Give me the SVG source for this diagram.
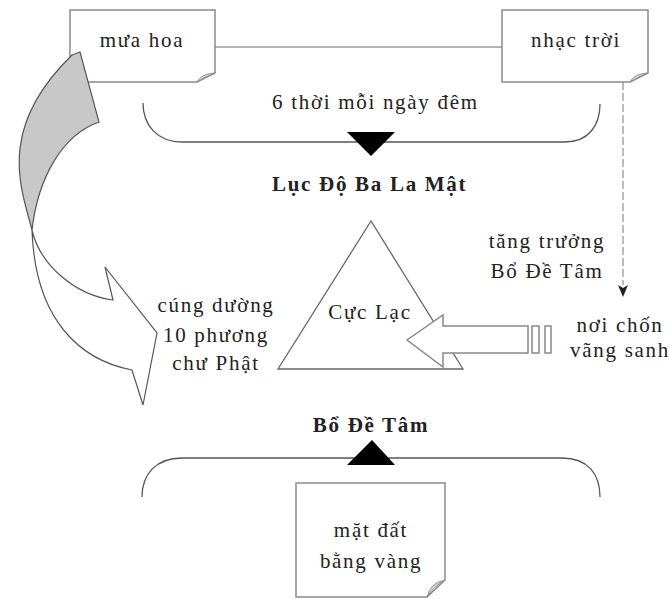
<svg xmlns="http://www.w3.org/2000/svg" width="669" height="599" viewBox="0 0 669 599">
<defs>
<style>
.t{font-family:"Liberation Serif","Times New Roman",serif;font-size:21px;fill:#222;letter-spacing:1.7px}
.b{font-weight:bold}
.box{fill:#fff;stroke:#8a8a8a;stroke-width:1.5}
.fold{fill:#e0e0e0;stroke:#8a8a8a;stroke-width:1}
.br{fill:none;stroke:#555;stroke-width:1.3}
.ln{fill:none;stroke:#555;stroke-width:1.2}
</style>
<marker id="ah" viewBox="0 0 10 12" refX="5" refY="12" markerWidth="10" markerHeight="12" markerUnits="userSpaceOnUse" orient="auto-start-reverse">
<path d="M0,0 L5,3 L10,0 L5,12 Z" fill="#222"/>
</marker>
</defs>
<rect width="669" height="599" fill="#fff"/>

<g id="connectors">
<line x1="215" y1="47" x2="502" y2="47" stroke="#999" stroke-width="1.3"/>
<path d="M623,82 V285" fill="none" stroke="#999" stroke-width="1.3" stroke-dasharray="8,3"/>
<path d="M618,285 L623,288 L628,285 L623,297 Z" fill="#222"/>
</g>

<g id="node-mua-hoa">
<path class="box" d="M70,10 H215 V73 L197,82 H70 Z"/>
<path class="fold" d="M197,82 Q201,74 215,73 Q205,77 197,82 Z"/>
<text class="t" x="142" y="47" text-anchor="middle">mưa hoa</text>
</g>

<g id="node-nhac-troi">
<path class="box" d="M502,10 H648 V73 L630,82 H502 Z"/>
<path class="fold" d="M630,82 Q634,74 648,73 Q638,77 630,82 Z"/>
<text class="t" x="576" y="47" text-anchor="middle">nhạc trời</text>
</g>

<g id="curved-arrow">
<path d="M72,55 L80,52 L99,122 C62,135 38,178 32,230 C22,190 -5,130 72,55 Z" fill="#c8c8c8" stroke="#555" stroke-width="1.2"/>
<path d="M32,230 C40,265 75,295 113,300 L105,267 L157,333 L143,405 L132,370 C80,360 35,320 32,230 Z" fill="#fff" stroke="#555" stroke-width="1.2"/>
</g>

<g id="top-bracket">
<path class="br" d="M143,103 C143,126 158,142 182,142 H565 C588,142 600,126 600,104"/>
<path d="M347,132 L395,132 L371,156 Z" fill="#000"/>
<text class="t" x="272" y="109">6 thời mỗi ngày đêm</text>
<text class="t b" x="272" y="191">Lục Độ Ba La Mật</text>
</g>

<g id="node-cuc-lac">
<path d="M371,221 L278,369 L463,369 Z" fill="#fff" stroke="#666" stroke-width="1.3"/>
<text class="t" x="370" y="319" text-anchor="middle">Cực Lạc</text>
</g>

<g id="striped-arrow">
<path d="M407,340 L443,315 L443,326 L528,326 L528,353 L443,353 L443,367 Z" fill="#fff" stroke="#888" stroke-width="1.5"/>
<rect x="532" y="326" width="7" height="27" fill="#fff" stroke="#888" stroke-width="1.5"/>
<rect x="545" y="326" width="6" height="27" fill="#fff" stroke="#888" stroke-width="1.5"/>
</g>

<g id="label-tang-truong">
<text class="t" x="547" y="248" text-anchor="middle">tăng trưởng</text>
<text class="t" x="547" y="278" text-anchor="middle">Bổ Đề Tâm</text>
</g>

<g id="label-noi-chon">
<text class="t" x="620" y="332" text-anchor="middle">nơi chốn</text>
<text class="t" x="620" y="357" text-anchor="middle">vãng sanh</text>
</g>

<g id="label-cung-duong">
<text class="t" x="216" y="312" text-anchor="middle">cúng dường</text>
<text class="t" x="216" y="342" text-anchor="middle">10 phương</text>
<text class="t" x="216" y="370" text-anchor="middle">chư Phật</text>
</g>

<g id="bottom-bracket">
<text class="t b" x="371" y="432" text-anchor="middle">Bổ Đề Tâm</text>
<path class="br" d="M142,497 C142,474 156,458 182,458 H562 C588,458 600,474 600,497"/>
<path d="M372,440 L395,465 L347,465 Z" fill="#000"/>
</g>

<g id="node-mat-dat">
<path class="box" d="M296,483 H445 V580 L427,597 H296 Z"/>
<path class="fold" d="M427,597 Q430,583 445,580 Q434,586 427,597 Z"/>
<text class="t" x="371" y="537" text-anchor="middle">mặt đất</text>
<text class="t" x="371" y="568" text-anchor="middle">bằng vàng</text>
</g>
</svg>
